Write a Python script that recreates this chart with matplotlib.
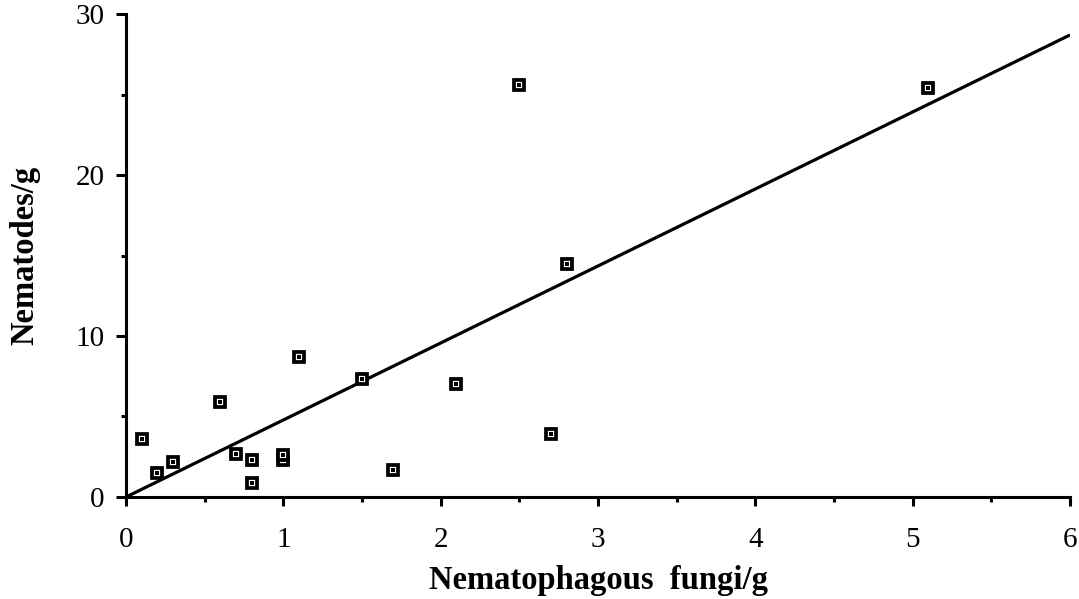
import numpy as np
import matplotlib.pyplot as plt
from matplotlib.ticker import MultipleLocator

# fungi/g vs nematodes/g
fungi = [0.1, 0.2, 0.3, 0.6, 0.7, 0.8, 0.8, 1.0, 1.0, 1.1, 1.5, 1.7, 2.1, 2.5, 2.7, 2.8, 5.1]
nematodes = [3.6, 1.5, 2.2, 5.9, 2.7, 2.3, 0.9, 2.3, 2.6, 8.7, 7.3, 1.7, 7.0, 25.6, 3.9, 14.5, 25.4]

# regression line through the origin
fit_x = [0, 6]
fit_y = [0, 28.7]

plt.rcParams['font.family'] = ['Liberation Serif', 'DejaVu Serif']

fig = plt.figure(figsize=(10.79, 5.99), dpi=100)
ax = fig.add_axes([0.1168, 0.1703, 0.8749, 0.8063])

ax.plot(fit_x, fit_y, color="black", linewidth=2.3, solid_capstyle="butt")
ax.plot(fungi, nematodes, linestyle="none", marker="s", markersize=7.6,
        markerfacecolor="white", markeredgecolor="black", markeredgewidth=2.7)
ax.plot(fungi, nematodes, linestyle="none", marker="s", markersize=2.2,
        markerfacecolor="black", markeredgecolor="black", markeredgewidth=0)

ax.set_xlim(0, 6)
ax.set_ylim(0, 30)
ax.xaxis.set_major_locator(MultipleLocator(1))
ax.xaxis.set_minor_locator(MultipleLocator(0.5))
ax.yaxis.set_major_locator(MultipleLocator(10))
ax.yaxis.set_minor_locator(MultipleLocator(5))

for side in ["top", "right"]:
    ax.spines[side].set_visible(False)
for side in ["left", "bottom"]:
    ax.spines[side].set_linewidth(2.2)

ax.tick_params(axis="both", which="major", direction="out", width=2.2,
               labelsize=21, colors="black")
ax.tick_params(axis="x", which="major", length=6.5, pad=15)
ax.tick_params(axis="y", which="major", length=7.5, pad=8)
ax.tick_params(axis="both", which="minor", direction="out", width=2.2, length=3.5)

ax.set_xlabel("Nematophagous  fungi/g", fontsize=23.5, fontweight="bold", labelpad=9)
ax.set_ylabel("Nematodes/g", fontsize=23.5, fontweight="bold", labelpad=25)

fig.savefig("out.png", dpi=100)
